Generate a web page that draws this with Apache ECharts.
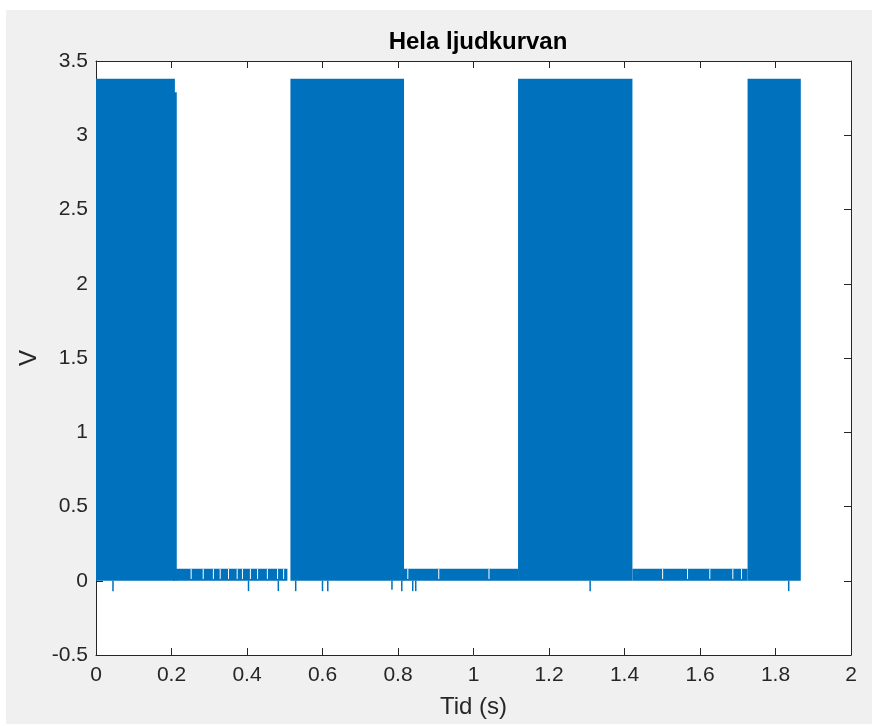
<!DOCTYPE html>
<html>
<head>
<meta charset="utf-8">
<script src="https://cdn.jsdelivr.net/npm/echarts@6/dist/echarts.min.js"></script>
<style>
  html, body { margin: 0; padding: 0; background: #ffffff; }
  #wrap { position: relative; width: 872px; height: 726px; background: #ffffff; }
  #ljud { position: absolute; left: 6px; top: 10px; width: 866px; height: 714px; background: #f0f0f0; }
</style>
</head>
<body>
<div id="wrap"><div id="ljud"></div></div>
<script>
// tid (s) och spänning (V), avläst ur bilden
// tätt svängande partier: [start, slut, min, max]
const onBlocks = [
  [0, 0.209, 0, 3.38],
  [0.205, 0.214, 0, 3.29],
  [0.515, 0.816, 0, 3.38],
  [1.118, 1.421, 0, 3.38],
  [1.726, 1.867, 0, 3.38]
];
// brus i de tysta partierna: [start, slut, min, max]
const noiseBands = [
  [0.212, 0.507, 0, 0.08],
  [0.814, 1.118, 0, 0.08],
  [1.421, 1.726, 0, 0.08]
];
// nedåtgående spikar: [tid, lägsta värde]
const dips = [
  [0.045, -0.07], [0.404, -0.07], [0.483, -0.07], [0.529, -0.07],
  [0.600, -0.07], [0.614, -0.07], [0.784, -0.06], [0.810, -0.07],
  [0.839, -0.07], [0.847, -0.07], [1.309, -0.07], [1.835, -0.07]
];
// tider där bruset går ner till noll
const gapTimes = [
  0.252, 0.284, 0.311, 0.329, 0.351, 0.374, 0.388, 0.409, 0.428, 0.454, 0.481, 0.497,
  0.826, 0.908, 1.041,
  1.501, 1.567, 1.626, 1.687, 1.710
];
const xTicks = { min: 0, max: 2, step: 0.2 };
const yTicks = { min: -0.5, max: 3.5, step: 0.5 };

const blue = "#0072BD";
const axisColor = "#262626";
const font = "Liberation Sans";

const chart = echarts.init(document.getElementById("ljud"));

function rectItem(params, api) {
  const p0 = api.coord([api.value(0), api.value(3)]);
  const p1 = api.coord([api.value(1), api.value(2)]);
  return {
    type: "rect",
    shape: { x: p0[0], y: p0[1], width: p1[0] - p0[0], height: p1[1] - p0[1] },
    style: { fill: blue }
  };
}

function dipItem(params, api) {
  const a = api.coord([api.value(0), 0]);
  const b = api.coord([api.value(0), api.value(1)]);
  return {
    type: "line",
    shape: { x1: a[0], y1: a[1], x2: b[0], y2: b[1] },
    style: { stroke: blue, lineWidth: 1.5 }
  };
}

function gapItem(params, api) {
  const a = api.coord([api.value(0), 0.012]);
  const b = api.coord([api.value(0), 0.08]);
  return {
    type: "line",
    shape: { x1: a[0], y1: a[1], x2: b[0], y2: b[1] },
    style: { stroke: "#ffffff", lineWidth: 1 }
  };
}

const fmt = (v) => String(Number(v.toFixed(1)));

const axisCommon = {
  type: "value",
  axisLine: { show: true, onZero: false, lineStyle: { color: axisColor, width: 1 } },
  axisTick: { show: true, inside: true, length: 7, lineStyle: { color: axisColor } },
  splitLine: { show: false }
};

const option = {
  animation: false,
  backgroundColor: "#f0f0f0",
  title: {
    text: "Hela ljudkurvan",
    left: 467,
    top: 15,
    textAlign: "center",
    textStyle: { fontFamily: font, fontSize: 24, fontWeight: "bold", color: "#000000" }
  },
  grid: {
    left: 90, top: 51, width: 755, height: 596,
    show: true, backgroundColor: "#ffffff", borderWidth: 0
  },
  xAxis: [
    Object.assign({}, axisCommon, {
      position: "bottom",
      min: xTicks.min, max: xTicks.max, interval: xTicks.step,
      name: "Tid (s)", nameLocation: "middle", nameGap: 40,
      nameTextStyle: { fontFamily: font, fontSize: 24, color: axisColor },
      axisLabel: { fontFamily: font, fontSize: 21, color: axisColor, margin: 10, formatter: fmt }
    }),
    Object.assign({}, axisCommon, {
      position: "top",
      min: xTicks.min, max: xTicks.max, interval: xTicks.step,
      axisLabel: { show: false }
    })
  ],
  yAxis: [
    Object.assign({}, axisCommon, {
      position: "left",
      min: yTicks.min, max: yTicks.max, interval: yTicks.step,
      name: "V", nameLocation: "middle", nameGap: 54,
      nameTextStyle: { fontFamily: font, fontSize: 24, color: axisColor },
      axisLabel: { fontFamily: font, fontSize: 21, color: axisColor, margin: 8, formatter: fmt }
    }),
    Object.assign({}, axisCommon, {
      position: "right",
      min: yTicks.min, max: yTicks.max, interval: yTicks.step,
      axisLabel: { show: false }
    })
  ],
  series: [
    {
      type: "custom",
      renderItem: rectItem,
      encode: { x: [0, 1], y: [2, 3] },
      data: onBlocks.concat(noiseBands),
      clip: true,
      silent: true
    },
    {
      type: "custom",
      renderItem: gapItem,
      encode: { x: 0 },
      data: gapTimes.map((t) => [t]),
      clip: true,
      silent: true
    },
    {
      type: "custom",
      renderItem: dipItem,
      encode: { x: 0, y: 1 },
      data: dips,
      clip: true,
      silent: true
    }
  ]
};

window.addEventListener("resize", function () {
  chart.resize();
});

option && chart.setOption(option);
</script>
</body>
</html>
